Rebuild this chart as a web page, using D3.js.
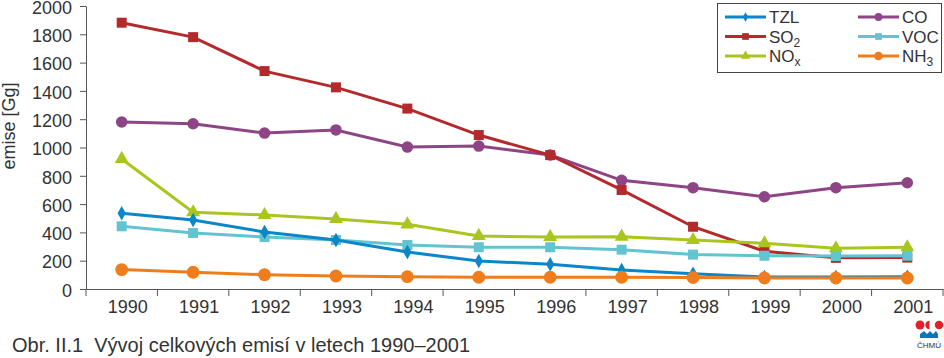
<!DOCTYPE html>
<html>
<head>
<meta charset="utf-8">
<script src="https://cdn.jsdelivr.net/npm/d3@7"></script>
<style>
  body { margin: 0; background: #fff; }
  svg { font-family: "Liberation Sans", Arial, sans-serif; }
  .axis path, .axis line { stroke: #555; stroke-width: 1; }
  .axis text { font-size: 18px; fill: #333; }
</style>
</head>
<body>
<svg id="chart" width="944" height="358"></svg>
<script>
// data

let years = ["1990", "1991", "1992", "1993", "1994", "1995", "1996", "1997", "1998", "1999", "2000", "2001"];

let tzl = [535, 488, 403, 346, 261, 198, 175, 134, 108, 85, 85, 87];
let so2 = [1882, 1780, 1540, 1425, 1275, 1088, 946, 700, 440, 266, 220, 222];
let nox = [919, 542, 523, 495, 457, 375, 367, 370, 346, 323, 288, 295];
let co = [1180, 1168, 1102, 1124, 1003, 1010, 947, 768, 716, 652, 716, 751];
let voc = [443, 396, 367, 346, 311, 295, 295, 278, 243, 235, 233, 235];
let nh3 = [137, 118, 101, 92, 87, 83, 83, 83, 81, 78, 78, 78];

let yTicks = [0, 200, 400, 600, 800, 1000, 1200, 1400, 1600, 1800, 2000];

// series settings (drawing order: back to front)
let series = [
  {name: "CO", values: co, color: "#8e4585", symbol: d3.symbolCircle, size: 105},
  {name: "SO2", values: so2, color: "#b42a2c", symbol: d3.symbolSquare, size: 100},
  {name: "NOx", values: nox, color: "#a9c61f", symbol: d3.symbolTriangle, size: 85},
  {name: "VOC", values: voc, color: "#62c3d1", symbol: d3.symbolSquare, size: 100},
  {name: "TZL", values: tzl, color: "#0b86c9", symbol: d3.symbolDiamond, size: 60},
  {name: "NH3", values: nh3, color: "#f07d1c", symbol: d3.symbolCircle, size: 130}
];

let svg = d3.select("#chart");

let plotLeft = 86, plotRight = 943, plotTop = 6, plotBottom = 289;

let x = d3.scaleBand()
    .domain(years)
    .range([plotLeft, plotRight]);

let y = d3.scaleLinear()
    .domain([0, 2000])
    .range([plotBottom, plotTop]);

// y axis
let yAxis = svg.append("g")
    .attr("class", "axis")
    .attr("transform", `translate(${plotLeft},0)`)
    .call(d3.axisLeft(y).tickValues(yTicks).tickFormat(d3.format("d"))
      .tickSize(6).tickPadding(8).tickSizeOuter(0));
yAxis.selectAll("text").attr("dy", "0.4em");

// x axis, ticks between categories
let xAxis = svg.append("g")
    .attr("class", "axis")
    .attr("transform", `translate(0,${plotBottom})`)
    .call(d3.axisBottom(x).tickSize(0).tickPadding(11).tickSizeOuter(0));
xAxis.selectAll("text").attr("dx", 6);

xAxis.selectAll(".sep")
    .data(d3.range(years.length + 1))
  .enter().append("line")
    .attr("class", "sep")
    .attr("x1", i => plotLeft + i * x.step())
    .attr("x2", i => plotLeft + i * x.step())
    .attr("y1", 0)
    .attr("y2", 7);

// y label
svg.append("text")
    .attr("transform", "translate(15,126) rotate(-90)")
    .attr("text-anchor", "middle")
    .attr("font-size", 18)
    .attr("fill", "#333")
    .text("emise [Gg]");

// lines and markers
let line = d3.line()
    .x((d, i) => x(years[i]) + x.bandwidth() / 2)
    .y(d => y(d));

series.forEach(s => {
  let g = svg.append("g");

  g.append("path")
      .attr("d", line(s.values))
      .attr("fill", "none")
      .attr("stroke", s.color)
      .attr("stroke-width", 3);

  g.selectAll("path.marker")
      .data(s.values)
    .enter().append("path")
      .attr("class", "marker")
      .attr("transform", (d, i) => `translate(${x(years[i]) + x.bandwidth() / 2},${y(d)})`)
      .attr("d", d3.symbol().type(s.symbol).size(s.size))
      .attr("fill", s.color);
});

// legend
let legendItems = [
  {label: "TZL", sub: "", s: series[4]},
  {label: "SO", sub: "2", s: series[1]},
  {label: "NO", sub: "x", s: series[2]},
  {label: "CO", sub: "", s: series[0]},
  {label: "VOC", sub: "", s: series[3]},
  {label: "NH", sub: "3", s: series[5]}
];

let legend = svg.append("g");

legend.append("rect")
    .attr("x", 717.5)
    .attr("y", 3.5)
    .attr("width", 224)
    .attr("height", 69)
    .attr("fill", "#fff")
    .attr("stroke", "#444")
    .attr("stroke-width", 1);

legendItems.forEach((item, i) => {
  let col = Math.floor(i / 3), row = i % 3;
  let lx = 725 + col * 133;
  let ly = 17 + row * 19.5;
  let g = legend.append("g");

  g.append("line")
      .attr("x1", lx).attr("x2", lx + 41)
      .attr("y1", ly).attr("y2", ly)
      .attr("stroke", item.s.color)
      .attr("stroke-width", 3);

  g.append("path")
      .attr("transform", `translate(${lx + 20.5},${ly})`)
      .attr("d", d3.symbol().type(item.s.symbol).size(item.s.size * 0.45))
      .attr("fill", item.s.color);

  let t = g.append("text")
      .attr("x", lx + 44)
      .attr("y", ly + 6)
      .attr("font-size", 17)
      .attr("fill", "#333")
      .text(item.label);
  if (item.sub) {
    t.append("tspan")
        .attr("font-size", 12)
        .attr("dy", 4)
        .text(item.sub);
  }
});

// caption
svg.append("text")
    .attr("x", 12)
    .attr("y", 352)
    .attr("font-size", 20)
    .attr("fill", "#333")
    .style("white-space", "pre")
    .text("Obr. II.1  Vývoj celkových emisí v letech 1990–2001");

// ČHMÚ logo
let logo = svg.append("g")
    .attr("transform", "translate(915,320)");

logo.append("circle").attr("cx", 5).attr("cy", 5).attr("r", 4.5).attr("fill", "#e2202a");
logo.append("path").attr("d", "M14.5,0.8 A4.2,4.2 0 0,0 14.5,9.2 Z").attr("fill", "#e2202a");
logo.append("circle").attr("cx", 24).attr("cy", 5).attr("r", 4.2).attr("fill", "#e2202a");
logo.append("path")
    .attr("d", "M5,18 L5,14 L9,11 L12,14 L15,11 L18,14 L21,11 L23,14 L23,18 Z")
    .attr("fill", "#1273bd");
logo.append("text")
    .attr("x", 14)
    .attr("y", 28)
    .attr("text-anchor", "middle")
    .attr("font-size", 8)
    .attr("fill", "#333")
    .text("ČHMÚ");
</script>
</body>
</html>
